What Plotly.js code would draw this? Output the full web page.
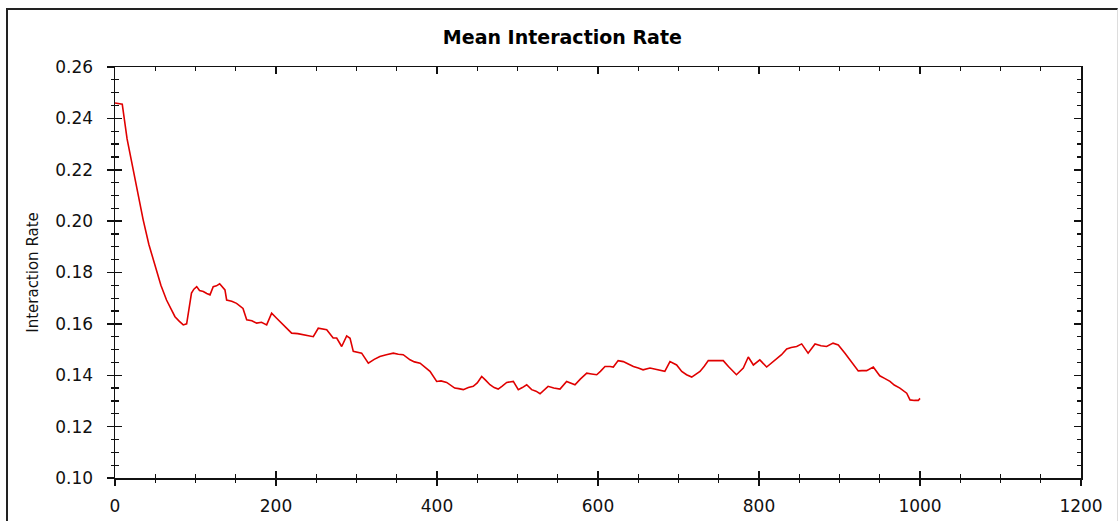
<!DOCTYPE html>
<html>
<head>
<meta charset="utf-8">
<script src="https://cdn.plot.ly/plotly-3.0.1.min.js"></script>
<style>
  html, body { margin: 0; padding: 0; background: #fff; }
  #wrap { position: relative; width: 1118px; height: 521px; overflow: hidden; }
  #chart { position: absolute; left: 0; top: 0; width: 1118px; height: 521px; }
  #frame { position: absolute; left: 6px; top: 8px; width: 1109px; height: 600px;
           border-left: 2px solid #222; border-top: 2px solid #222; border-right: 1px solid #ddd;
           pointer-events: none; }
</style>
</head>
<body>
<div id="wrap">
  <div id="chart"></div>
  <div id="frame"></div>
</div>
<script>
// ---- data ----
const chartTitle = "Mean Interaction Rate";
const yAxisTitle = "Interaction Rate";

const steps = [
  0, 4, 9, 15, 22.7, 29, 35, 42, 49.7, 57, 64, 70, 74.5, 80, 84.8, 89, 92, 95, 98, 101.5,
  105, 109.7, 114, 118, 122, 126, 130, 136.6, 138.7, 145, 151, 156, 159, 163.6, 170, 176, 182, 188.4, 194.6, 200.8,
  207, 213, 219.4, 227, 234, 240, 246.3, 252.5, 257, 263, 271, 275.4, 281.6, 287.8, 292, 296, 306.4, 314.7, 322, 329,
  337, 345.7, 352, 358, 366.5, 372, 379, 385, 391.3, 399.6, 405, 412, 417, 422, 427, 432.7, 439, 445, 450, 455.5,
  460, 465.8, 471, 476, 481, 486.6, 494.8, 501, 506, 511.4, 517.6, 523, 528, 533, 538, 545, 552.8, 561, 566, 571.4,
  578, 586, 592, 598.4, 603, 608.7, 615, 619, 625, 631.4, 637, 644, 650, 656, 664.6, 673, 678, 683, 689.4, 697.7,
  704, 710, 716.4, 721, 726.7, 732, 737, 746, 755.6, 762, 767, 772, 780.5, 786.7, 793, 801, 809.5, 816, 822, 828,
  834.4, 840, 846.8, 853, 861, 869.6, 877, 884, 892, 898.5, 906.8, 915, 923.3, 928, 933.7, 942, 950, 956, 962.7, 968,
  975, 983.5, 987.6, 993, 997.9, 1000
];

const rate = [
  0.2460, 0.2459, 0.2455, 0.2320, 0.2199, 0.2100, 0.2005, 0.1910, 0.1823, 0.1750, 0.1693, 0.1655, 0.1628, 0.1610, 0.1596, 0.1600, 0.1660, 0.1720, 0.1735, 0.1745,
  0.1730, 0.1726, 0.1718, 0.1713, 0.1745, 0.1748, 0.1756, 0.1732, 0.1693, 0.1688, 0.1680, 0.1668, 0.1660, 0.1616, 0.1612, 0.1603, 0.1606, 0.1596, 0.1642, 0.1622,
  0.1603, 0.1585, 0.1564, 0.1562, 0.1557, 0.1555, 0.1550, 0.1583, 0.1580, 0.1577, 0.1545, 0.1545, 0.1512, 0.1553, 0.1544, 0.1493, 0.1486, 0.1447, 0.1462, 0.1473,
  0.1480, 0.1486, 0.1482, 0.1480, 0.1460, 0.1452, 0.1447, 0.1430, 0.1415, 0.1376, 0.1378, 0.1372, 0.1362, 0.1350, 0.1348, 0.1344, 0.1352, 0.1357, 0.1370, 0.1395,
  0.1382, 0.1363, 0.1352, 0.1346, 0.1358, 0.1372, 0.1376, 0.1344, 0.1352, 0.1363, 0.1344, 0.1338, 0.1328, 0.1342, 0.1357, 0.1350, 0.1346, 0.1376, 0.1370, 0.1363,
  0.1385, 0.1408, 0.1405, 0.1402, 0.1415, 0.1434, 0.1434, 0.1432, 0.1457, 0.1453, 0.1445, 0.1434, 0.1428, 0.1421, 0.1428, 0.1421, 0.1418, 0.1415, 0.1453, 0.1440,
  0.1415, 0.1402, 0.1393, 0.1402, 0.1415, 0.1435, 0.1457, 0.1457, 0.1457, 0.1434, 0.1418, 0.1402, 0.1428, 0.1471, 0.1440, 0.1460, 0.1432, 0.1448, 0.1463, 0.1480,
  0.1502, 0.1508, 0.1512, 0.1522, 0.1486, 0.1522, 0.1515, 0.1512, 0.1525, 0.1518, 0.1486, 0.1453, 0.1417, 0.1418, 0.1418, 0.1432, 0.1398, 0.1388, 0.1376, 0.1362,
  0.1350, 0.1330, 0.1304, 0.1302, 0.1302, 0.1310
];

const xRange = [0, 1200];
const yRange = [0.10, 0.26];

// ---- chart ----
const font = "DejaVu Sans, Verdana, sans-serif";

const traces = [
  { x: steps, y: rate, type: "scatter", mode: "lines",
    line: { color: "#e00000", width: 1.6 }, hoverinfo: "x+y", showlegend: false },
  { x: [null], y: [null], xaxis: "x2", yaxis: "y2", type: "scatter", mode: "lines",
    showlegend: false, hoverinfo: "skip" }
];

const layout = {
  width: 1118, height: 521,
  margin: { l: 115, r: 37, t: 67, b: 43 },
  paper_bgcolor: "#ffffff", plot_bgcolor: "#ffffff",
  font: { family: font, color: "#111", size: 17 },
  showlegend: false,
  title: { text: chartTitle, font: { family: font, size: 19, weight: "bold", color: "#000" },
           x: 0.503, xanchor: "center", y: 1 - 37 / 521, yanchor: "middle", yref: "container" },
  xaxis: {
    range: xRange, dtick: 200, tick0: 0, showgrid: false, zeroline: false,
    showline: true, linecolor: "#111", linewidth: 1.5,
    ticks: "outside", ticklen: 6, tickwidth: 1.5, tickcolor: "#111",
    minor: { dtick: 50, ticks: "outside", ticklen: 3, tickwidth: 1.2, tickcolor: "#111", showgrid: false },
    tickfont: { family: font, size: 17, color: "#111" }, ticklabelstandoff: 6,
    fixedrange: true
  },
  yaxis: {
    range: yRange, dtick: 0.02, tick0: 0.10, tickformat: ".2f", showgrid: false, zeroline: false,
    showline: true, linecolor: "#111", linewidth: 1.5,
    ticks: "outside", ticklen: 7, tickwidth: 1.5, tickcolor: "#111",
    minor: { dtick: 0.005, ticks: "outside", ticklen: 3, tickwidth: 1.2, tickcolor: "#111", showgrid: false },
    tickfont: { family: font, size: 17, color: "#111" }, ticklabelstandoff: 10,
    title: { text: yAxisTitle, font: { family: font, size: 15, color: "#111" }, standoff: 13 },
    fixedrange: true
  },
  xaxis2: {
    overlaying: "x", anchor: "y2", side: "bottom", range: xRange, dtick: 200, tick0: 0,
    showgrid: false, zeroline: false, showline: true, linecolor: "#111", linewidth: 1.5, mirror: "allticks",
    ticks: "inside", ticklen: 7, tickwidth: 1.5, tickcolor: "#111",
    minor: { dtick: 50, ticks: "inside", ticklen: 4, tickwidth: 1.2, tickcolor: "#111", showgrid: false },
    showticklabels: false, fixedrange: true
  },
  yaxis2: {
    overlaying: "y", anchor: "x2", side: "left", range: yRange, dtick: 0.02, tick0: 0.10,
    showgrid: false, zeroline: false, showline: true, linecolor: "#111", linewidth: 1.5, mirror: "allticks",
    ticks: "inside", ticklen: 7, tickwidth: 1.5, tickcolor: "#111",
    minor: { dtick: 0.005, ticks: "inside", ticklen: 4, tickwidth: 1.2, tickcolor: "#111", showgrid: false },
    showticklabels: false, fixedrange: true
  }
};

Plotly.newPlot("chart", traces, layout, { displayModeBar: false, staticPlot: true });
</script>
</body>
</html>
